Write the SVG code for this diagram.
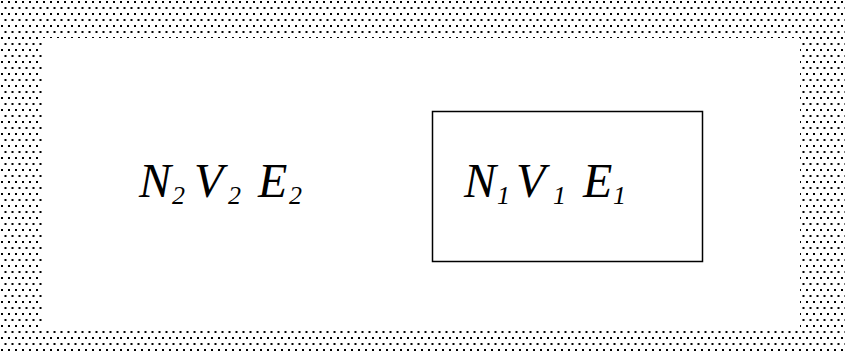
<svg xmlns="http://www.w3.org/2000/svg" width="845" height="353" viewBox="0 0 845 353">
<defs>
<pattern id="dots" x="0" y="0" width="7" height="12" patternUnits="userSpaceOnUse">
<rect x="1" y="1" width="2" height="2" fill="#000"/>
<rect x="4.5" y="7" width="2" height="2" fill="#000"/>
</pattern>
</defs>
<style>
.m{font-family:"Liberation Serif","Times New Roman",serif;font-style:italic;font-size:48px;fill:#000}
.s{font-family:"Liberation Serif","Times New Roman",serif;font-style:italic;font-size:26px;fill:#000}
</style>
<rect x="0" y="0" width="845" height="353" fill="url(#dots)"/>
<rect x="42" y="38" width="758" height="290" fill="#fff"/>
<g id="outer">
<text class="m" x="139" y="197">N</text><text class="s" x="172" y="204">2</text>
<text class="m" x="194" y="197">V</text><text class="s" x="228" y="204">2</text>
<text class="m" x="258" y="197">E</text><text class="s" x="289" y="204">2</text>
</g>
<g id="inner">
<rect x="432.5" y="111.5" width="270" height="150" fill="none" stroke="#000" stroke-width="1.5"/>
<text class="m" x="464" y="197">N</text><text class="s" x="497" y="204">1</text>
<text class="m" x="516" y="197">V</text><text class="s" x="553" y="204">1</text>
<text class="m" x="583" y="197">E</text><text class="s" x="613" y="204">1</text>
</g>
<g id="connectors"/>
</svg>
